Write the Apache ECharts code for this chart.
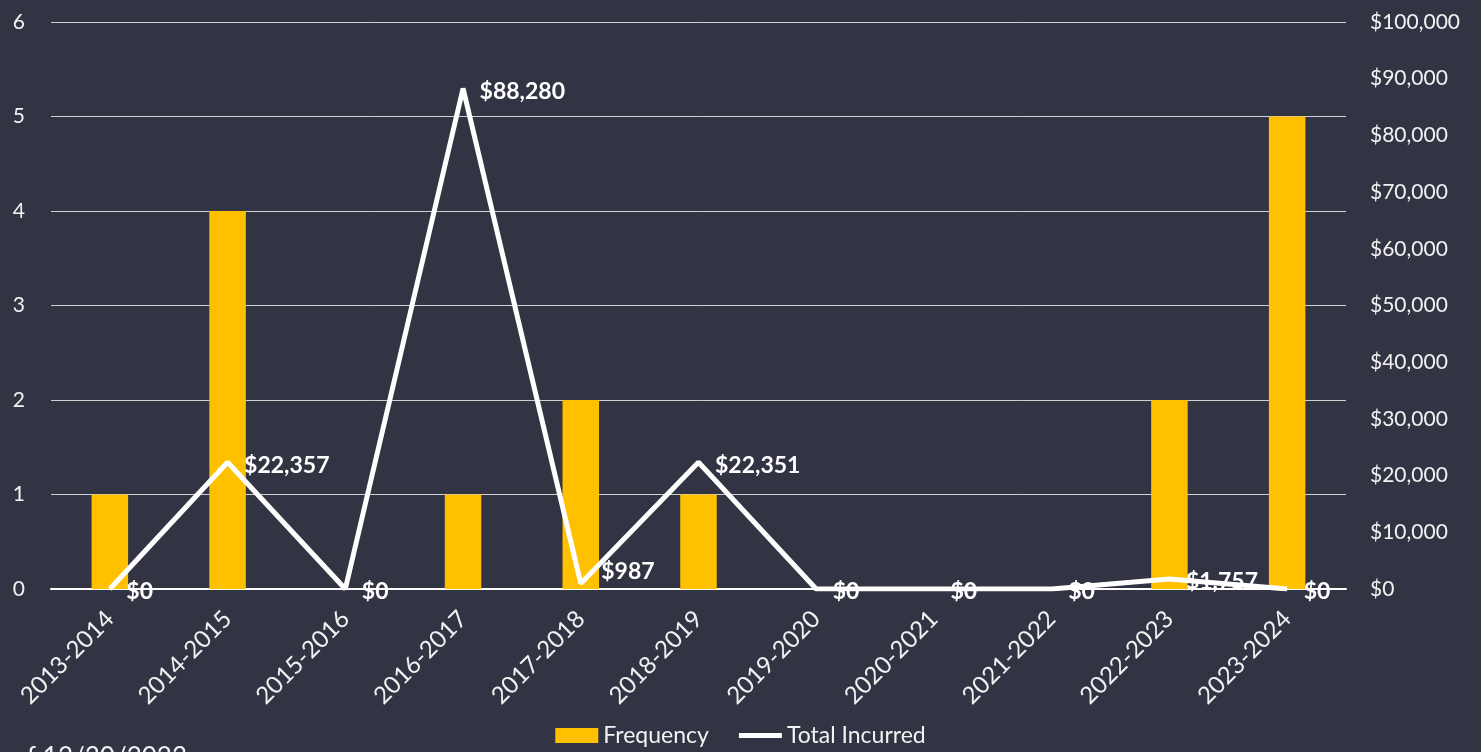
<!DOCTYPE html>
<html>
<head>
<meta charset="utf-8">
<script src="https://cdn.jsdelivr.net/npm/echarts@6/dist/echarts.min.js"></script>
<style>
  html, body { margin: 0; padding: 0; background: #323443; }
  #chart { width: 1481px; height: 752px; }
</style>
</head>
<body>
<div id="chart"></div>
<script>
const years = ['2013-2014', '2014-2015', '2015-2016', '2016-2017', '2017-2018', '2018-2019',
  '2019-2020', '2020-2021', '2021-2022', '2022-2023', '2023-2024'];
const frequency = [1, 4, 0, 1, 2, 1, 0, 0, 0, 2, 5];
const incurred = [0, 22357, 0, 88280, 987, 22351, 0, 0, 0, 1757, 0];

const FONT = 'Lato, "Open Sans", sans-serif';
const TEXT = '#f2f2f2';

function money(v) {
  return '$' + String(Math.round(v)).replace(/\B(?=(\d{3})+(?!\d))/g, ',');
}

// the $987 label sits a bit higher in the original, pushed up by the line
const incurredData = incurred.map((v, i) =>
  i === 4 ? { value: v, label: { offset: [4, -12] } } : v);

const chart = echarts.init(document.getElementById('chart'));
chart.setOption({
  backgroundColor: '#323443',
  animation: false,
  textStyle: { fontFamily: FONT },
  grid: { left: 51, right: 135, top: 22, bottom: 163 },
  legend: {
    bottom: 0, left: 'center', itemGap: 30, itemWidth: 43, itemHeight: 15,
    textStyle: { color: TEXT, fontSize: 23, fontFamily: FONT },
    data: [
      { name: 'Frequency', icon: 'rect' },
      { name: 'Total Incurred', icon: 'path://M0,0h43v5h-43z', itemStyle: { color: '#ffffff' } }
    ]
  },
  xAxis: {
    type: 'category', data: years,
    axisLine: { show: true, lineStyle: { color: '#ffffff', width: 2 } },
    axisTick: { show: false },
    axisLabel: { color: TEXT, fontSize: 24, rotate: 45, margin: 26, interval: 0 }
  },
  yAxis: [
    {
      type: 'value', min: 0, max: 6, interval: 1,
      axisLabel: { color: TEXT, fontSize: 21, margin: 26 },
      splitLine: { lineStyle: { color: '#d0d0d0', width: 1 } },
      axisLine: { show: false }, axisTick: { show: false }
    },
    {
      type: 'value', min: 0, max: 100000, interval: 10000, position: 'right',
      axisLabel: { color: TEXT, fontSize: 21, margin: 24, formatter: v => money(v) },
      splitLine: { show: false }, axisLine: { show: false }, axisTick: { show: false }
    }
  ],
  series: [
    {
      name: 'Frequency', type: 'bar', data: frequency, yAxisIndex: 0,
      barWidth: '31%', itemStyle: { color: '#ffc000' }
    },
    {
      name: 'Total Incurred', type: 'line', data: incurredData, yAxisIndex: 1,
      symbol: 'circle', symbolSize: 1, showSymbol: true, z: 5,
      lineStyle: { color: '#ffffff', width: 5 },
      itemStyle: { color: '#ffffff' },
      label: {
        show: true, position: 'right', distance: 16, offset: [0, 3],
        color: '#ffffff', fontWeight: 'bold', fontSize: 23, fontFamily: FONT,
        formatter: p => money(p.value)
      }
    }
  ],
  graphic: [
    {
      type: 'text', right: 1481 - 187, top: 745,
      style: { text: 'as of 12/30/2023', fill: TEXT, font: '26px ' + FONT }
    }
  ]
});
</script>
</body>
</html>
